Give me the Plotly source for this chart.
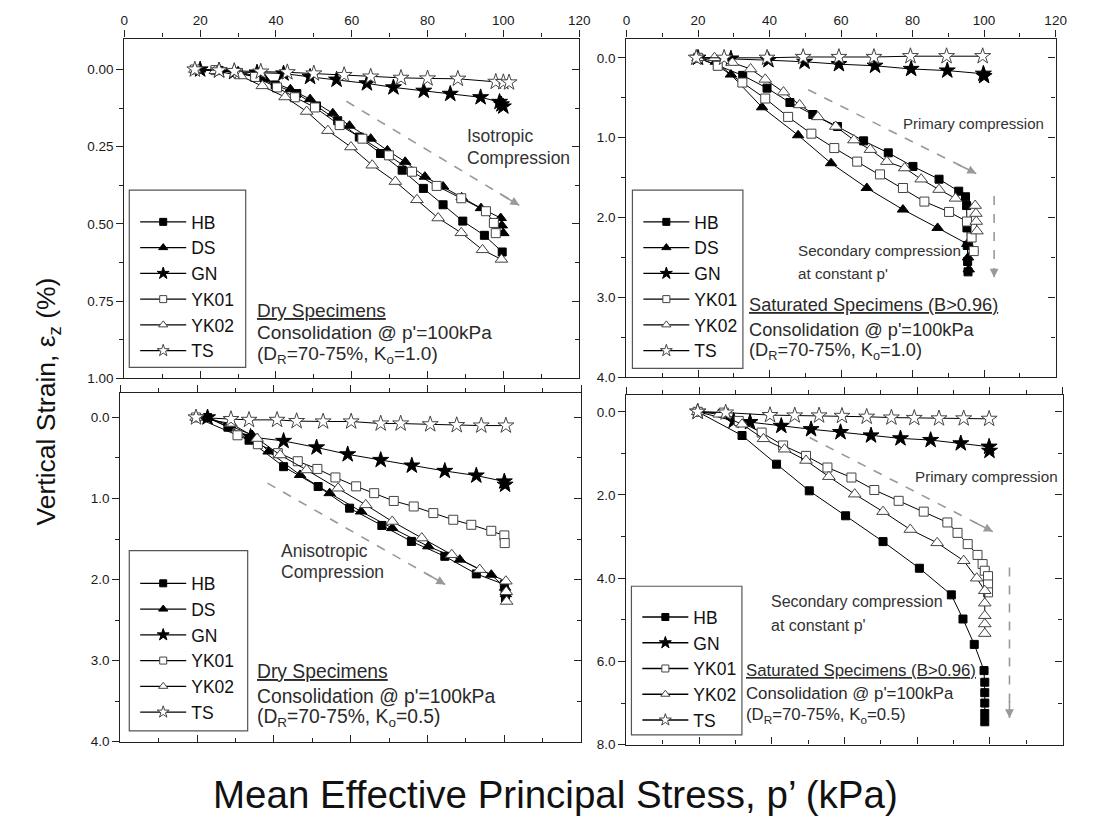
import plotly.graph_objects as go

FIG_W, FIG_H = 1113, 822
FONT = "Liberation Sans, Arial, sans-serif"

# ---------------- data ----------------
# Panel 1: dry specimens, Ko = 1.0
d1_HB_p = [19, 25, 30, 35, 39.8, 45.5, 50.7, 56.3, 62.0, 67.6, 73.3, 78.9, 84.1, 89.3, 95.0, 99.7]
d1_HB_e = [0, 0.003, 0.01, 0.025, 0.05, 0.078, 0.118, 0.166, 0.219, 0.272, 0.326, 0.385, 0.438, 0.491, 0.537, 0.591]
d1_DS_p = [20, 25, 30, 37, 43.8, 49, 55, 59.4, 65, 69.4, 74.1, 79.3, 84.1, 89, 94.1, 99.3, 99.6, 100]
d1_DS_e = [0, 0.002, 0.006, 0.03, 0.064, 0.096, 0.142, 0.182, 0.224, 0.262, 0.299, 0.347, 0.379, 0.414, 0.449, 0.481, 0.505, 0.53]
d1_GN_p = [20, 25, 29, 35, 42, 49, 56, 64, 71, 79, 86, 94, 99, 99.5, 100]
d1_GN_e = [0, 0.003, 0.008, 0.01, 0.013, 0.024, 0.033, 0.045, 0.058, 0.069, 0.079, 0.09, 0.105, 0.113, 0.12]
d1_YK01_p = [18.6, 24, 30, 34.5, 40.3, 45, 50.3, 56.8, 62.8, 69.8, 75.9, 82.4, 88.9, 95.4, 97.5, 98]
d1_YK01_e = [0, 0.002, 0.012, 0.024, 0.058, 0.09, 0.123, 0.18, 0.224, 0.278, 0.331, 0.377, 0.417, 0.459, 0.497, 0.53]
d1_YK02_p = [18.6, 24, 30.7, 36.4, 42.4, 48.1, 53.7, 59.8, 65.4, 71.5, 77.2, 82.8, 88.9, 94.5, 99.5]
d1_YK02_e = [0, 0.004, 0.021, 0.053, 0.089, 0.136, 0.198, 0.251, 0.31, 0.363, 0.422, 0.481, 0.529, 0.584, 0.615]
d1_TS_p = [18.6, 25, 29, 36, 43, 50, 58, 65, 73, 80, 88, 98, 100, 101.5]
d1_TS_e = [0, 0.003, 0.005, 0.007, 0.009, 0.013, 0.018, 0.023, 0.027, 0.029, 0.03, 0.04, 0.041, 0.042]

# Panel 2: saturated specimens, Ko = 1.0
s1_HB_p = [20, 25.5, 32.5, 39.3, 45.7, 52.1, 59, 66.3, 73.2, 80.1, 87.4, 92.9, 94.8, 95.1, 95.2, 95.3, 95.4, 95.5]
s1_HB_e = [0, 0.1, 0.22, 0.38, 0.56, 0.71, 0.86, 1.04, 1.19, 1.36, 1.52, 1.67, 1.74, 1.85, 2.13, 2.35, 2.55, 2.68]
s1_DS_p = [20, 25, 29.2, 37.9, 48, 57.2, 67.2, 77.3, 87, 95.3, 95.5, 95.7]
s1_DS_e = [0, 0.05, 0.21, 0.62, 0.97, 1.32, 1.63, 1.9, 2.13, 2.33, 2.5, 2.65]
s1_GN_p = [20, 29.2, 39.7, 49.8, 59.4, 69.5, 79.6, 89.7, 99.8, 100]
s1_GN_e = [0, 0.01, 0.03, 0.05, 0.08, 0.1, 0.14, 0.16, 0.2, 0.23]
s1_YK01_p = [20, 25.5, 32.4, 38.8, 45.2, 51.7, 58.1, 64.5, 70.9, 77.3, 83.3, 90.2, 95.2, 96.5, 97.1]
s1_YK01_e = [0, 0.1, 0.31, 0.51, 0.74, 0.95, 1.13, 1.3, 1.46, 1.63, 1.8, 1.93, 2.05, 2.25, 2.42]
s1_YK02_p = [20, 24.6, 29.6, 34.7, 38.8, 43.9, 48.4, 53.5, 58.5, 63.6, 68.2, 72.8, 77.8, 82.4, 87.4, 92, 97.5, 97.7, 97.8, 98]
s1_YK02_e = [0, 0, 0.06, 0.14, 0.27, 0.43, 0.59, 0.74, 0.86, 1.03, 1.15, 1.3, 1.38, 1.52, 1.65, 1.76, 1.85, 1.95, 2.05, 2.17]
s1_TS_p = [19.5, 27.3, 39.3, 49.4, 59.4, 69.2, 79.4, 89.5, 99.6]
s1_TS_e = [0, 0, 0, -0.01, -0.01, -0.01, -0.02, -0.02, -0.02]

# Panel 3: dry specimens, Ko = 0.5
d2_HB_p = [22.7, 28, 33.5, 42.5, 51.5, 59.7, 68.1, 75.8, 84.5, 92.7, 100, 100.2, 100.3]
d2_HB_e = [0, 0.12, 0.28, 0.607, 0.852, 1.119, 1.332, 1.529, 1.713, 1.93, 2.06, 2.15, 2.23]
d2_DS_p = [22.7, 28.5, 34.3, 38.6, 46.8, 54.5, 62.7, 70.8, 80.2, 88.4, 96.6, 100.2, 100.4]
d2_DS_e = [0, 0.1, 0.217, 0.42, 0.709, 0.934, 1.16, 1.365, 1.59, 1.754, 1.94, 2.1, 2.18]
d2_GN_p = [22.7, 33.9, 42.5, 51.1, 59.2, 67.8, 75.9, 84.5, 92.7, 100, 100.2]
d2_GN_e = [0, 0.24, 0.29, 0.37, 0.455, 0.525, 0.594, 0.66, 0.717, 0.79, 0.83]
d2_YK01_p = [19.7, 30.5, 35.8, 41, 46.2, 51.3, 56, 61.4, 66.1, 71.2, 76.4, 81.5, 86.7, 91.4, 96.6, 100, 100.1]
d2_YK01_e = [0, 0.22, 0.33, 0.44, 0.54, 0.635, 0.74, 0.85, 0.934, 1.03, 1.098, 1.18, 1.262, 1.324, 1.398, 1.455, 1.55]
d2_YK02_p = [19.7, 28.8, 35.6, 41.6, 48.5, 56.7, 63.9, 70.8, 78.5, 86.3, 93.6, 100.4, 100.5, 100.6]
d2_YK02_e = [0, 0.074, 0.26, 0.463, 0.648, 0.873, 1.078, 1.283, 1.488, 1.693, 1.877, 2.02, 2.15, 2.27]
d2_TS_p = [19.7, 28.8, 33.5, 40.8, 45.9, 52.8, 60.1, 67.8, 73, 80.7, 87.6, 94, 100.4]
d2_TS_e = [0, 0.02, 0.03, 0.03, 0.045, 0.05, 0.05, 0.075, 0.075, 0.085, 0.095, 0.1, 0.1]

# Panel 4: saturated specimens, Ko = 0.5
s2_HB_p = [19.6, 31.8, 41.3, 50.3, 60.3, 70.6, 80.6, 89.4, 92.6, 95.7, 98.4, 98.6, 98.6, 98.6, 98.6, 98.6]
s2_HB_e = [0, 0.57, 1.26, 1.9, 2.5, 3.12, 3.76, 4.4, 4.98, 5.59, 6.22, 6.5, 6.75, 7.0, 7.25, 7.45]
s2_GN_p = [19.6, 29.5, 34, 42.6, 50.8, 58.9, 67.3, 75.4, 83.7, 92, 99.8, 99.9]
s2_GN_e = [0, 0.22, 0.25, 0.34, 0.42, 0.49, 0.57, 0.64, 0.68, 0.76, 0.84, 0.94]
s2_YK01_p = [19.6, 26.8, 30.9, 37.2, 43.1, 49.4, 55.3, 61.9, 68.2, 74.9, 81.8, 88.3, 91.1, 93.9, 96.6, 98, 98.6, 99.5, 99.5, 99.5]
s2_YK01_e = [0, 0.02, 0.22, 0.5, 0.81, 1.06, 1.34, 1.58, 1.88, 2.14, 2.4, 2.66, 2.91, 3.18, 3.44, 3.66, 3.82, 3.95, 4.15, 4.34]
s2_YK02_p = [19.6, 25.5, 31.8, 37.7, 43.5, 49.4, 55.7, 62.8, 70.6, 78.1, 85.5, 92.8, 96.4, 98.6, 98.6, 98.6, 98.6, 98.6]
s2_YK02_e = [0, 0.06, 0.3, 0.65, 0.9, 1.17, 1.56, 1.98, 2.4, 2.83, 3.15, 3.58, 4.0, 4.3, 4.6, 4.9, 5.1, 5.33]
s2_TS_p = [19.6, 27.3, 39.5, 46.3, 53, 59.3, 66.1, 72.9, 79.2, 86, 92.8, 99.8]
s2_TS_e = [0, 0.02, 0.08, 0.09, 0.09, 0.1, 0.12, 0.14, 0.15, 0.16, 0.16, 0.17]

x_ticks = [0, 20, 40, 60, 80, 100, 120]

# ---------------- styles ----------------
GRAY = "#444"
style = {
    "HB": dict(symbol="square", size=8, leg=7, color="black", line=dict(color="black", width=1)),
    "DS": dict(symbol="triangle-up", size=10, leg=8, color="black", line=dict(color="black", width=1)),
    "GN": dict(symbol="star", size=12, leg=9, color="black", line=dict(color="black", width=1)),
    "YK01": dict(symbol="square", size=9, leg=7, color="white", line=dict(color=GRAY, width=1)),
    "YK02": dict(symbol="triangle-up", size=11, leg=8, color="white", line=dict(color=GRAY, width=1)),
    "TS": dict(symbol="star", size=12, leg=9, color="white", line=dict(color=GRAY, width=1)),
}


def fx(px):
    return px / FIG_W


def fy(py):
    return 1 - py / FIG_H


panels = [
    dict(
        dom=((122, 583), (39, 382)), yr=(1.0, -0.1), dt=0.25, mdt=0.125, fmt=".2f", xlab=True,
        series=[("HB", d1_HB_p, d1_HB_e), ("DS", d1_DS_p, d1_DS_e), ("GN", d1_GN_p, d1_GN_e),
                ("YK01", d1_YK01_p, d1_YK01_e), ("YK02", d1_YK02_p, d1_YK02_e), ("TS", d1_TS_p, d1_TS_e)],
        legbox=(127, 245, 192, 371), legpos=(133, 206),
        title="Dry Specimens", ko="1.0", tx=34.6, ty=(0.779, 0.853, 0.923), tfs=19,
        notes=[("Isotropic", 89.8, 0.215, 17.5), ("Compression", 89.8, 0.288, 17.5)],
        arrows=[((58.6, 0.103), (104.2, 0.44))],
    ),
    dict(
        dom=((631, 1066), (39, 381)), yr=(4.0, -0.24), dt=1.0, mdt=0.5, fmt=".1f", xlab=True,
        series=[("HB", s1_HB_p, s1_HB_e), ("DS", s1_DS_p, s1_DS_e), ("GN", s1_GN_p, s1_GN_e),
                ("YK01", s1_YK01_p, s1_YK01_e), ("YK02", s1_YK02_p, s1_YK02_e), ("TS", s1_TS_p, s1_TS_e)],
        legbox=(637, 749, 192, 372), legpos=(643, 206),
        title="Saturated Specimens (B>0.96)", ko="1.0", tx=33.7, ty=(3.10, 3.41, 3.68), tfs=18.2,
        notes=[("Primary compression", 76.8, 0.82, 15), ("Secondary compression", 47.3, 2.41, 15.2),
               ("at constant p'", 47.3, 2.70, 15.2)],
        arrows=[((50.8, 0.40), (97.8, 1.45)), ((102.8, 1.73), (102.8, 2.75))],
    ),
    dict(
        dom=((118, 585), (397, 749)), yr=(4.0, -0.3), dt=1.0, mdt=0.5, fmt=".1f", xlab=False,
        series=[("HB", d2_HB_p, d2_HB_e), ("DS", d2_DS_p, d2_DS_e), ("GN", d2_GN_p, d2_GN_e),
                ("YK01", d2_YK01_p, d2_YK01_e), ("YK02", d2_YK02_p, d2_YK02_e), ("TS", d2_TS_p, d2_TS_e)],
        legbox=(127, 247, 556, 738), legpos=(133, 571),
        title="Dry Specimens", ko="0.5", tx=35.0, ty=(3.14, 3.44, 3.71), tfs=19.3,
        notes=[("Anisotropic", 41.2, 1.65, 17.5), ("Compression", 41.2, 1.91, 17.5)],
        arrows=[((38.3, 0.81), (84.6, 2.06))],
    ),
    dict(
        dom=((631, 1073), (399, 752)), yr=(8.0, -0.4), dt=2.0, mdt=1.0, fmt=".1f", xlab=False,
        series=[("HB", s2_HB_p, s2_HB_e), ("GN", s2_GN_p, s2_GN_e), ("YK01", s2_YK01_p, s2_YK01_e),
                ("YK02", s2_YK02_p, s2_YK02_e), ("TS", s2_TS_p, s2_TS_e)],
        legbox=(636, 748, 592, 742), legpos=(642, 605),
        title="Saturated Specimens (B>0.96)", ko="0.5", tx=32.3, ty=(6.21, 6.76, 7.29), tfs=16.8,
        notes=[("Primary compression", 78.9, 1.55, 15.2), ("Secondary compression", 39.1, 4.55, 16),
               ("at constant p'", 39.1, 5.14, 16)],
        arrows=[((50.4, 0.62), (100.8, 2.88)), ((105.4, 3.74), (105.4, 7.36))],
    ),
]

fig = go.Figure()
layout = dict(
    width=FIG_W, height=FIG_H, margin=dict(l=0, r=0, t=0, b=0),
    paper_bgcolor="white", plot_bgcolor="white",
    font=dict(family=FONT, color="#222"),
    showlegend=True,
)
shapes = []
annotations = []

AX_COMMON = dict(showgrid=False, zeroline=False, showline=True, linecolor="#222", linewidth=1.4,
                 tickcolor="#222", tickwidth=1.2, tickfont=dict(size=13.5, family=FONT, color="#1a1a1a"))

for i, P in enumerate(panels, start=1):
    (x0, x1), (y0, y1) = P["dom"]
    dx = [fx(x0), fx(x1)]
    dy = [fy(y1), fy(y0)]
    xa = "x" if i == 1 else f"x{i}"
    ya = "y" if i == 1 else f"y{i}"
    xo, yo = f"x{i+4}", f"y{i+4}"
    leg = "legend" if i == 1 else f"legend{i}"

    layout["xaxis" if i == 1 else f"xaxis{i}"] = dict(
        AX_COMMON, domain=dx, anchor=ya, side="top", range=[0, 120], tickmode="array",
        tickvals=x_ticks, ticktext=[str(v) for v in x_ticks], showticklabels=P["xlab"],
        ticks="outside", ticklen=7,
        minor=dict(ticks="outside", ticklen=4, dtick=10, tick0=0, tickcolor="#222"),
    )
    layout["yaxis" if i == 1 else f"yaxis{i}"] = dict(
        AX_COMMON, domain=dy, anchor=xa, side="left", range=list(P["yr"]),
        tick0=0, dtick=P["dt"], tickformat=P["fmt"], ticks="outside", ticklen=7,
        minor=dict(ticks="outside", ticklen=4, dtick=P["mdt"], tick0=0, tickcolor="#222"),
    )
    layout[f"xaxis{i+4}"] = dict(
        AX_COMMON, overlaying=xa, anchor=ya, side="bottom", range=[0, 120], tickmode="array",
        tickvals=x_ticks, showticklabels=False, ticks="inside", ticklen=7,
        minor=dict(ticks="inside", ticklen=4, dtick=10, tick0=0, tickcolor="#222"),
    )
    layout[f"yaxis{i+4}"] = dict(
        AX_COMMON, overlaying=ya, anchor=xa, side="right", range=list(P["yr"]),
        tick0=0, dtick=P["dt"], showticklabels=False, ticks="inside", ticklen=7,
        minor=dict(ticks="inside", ticklen=4, dtick=P["mdt"], tick0=0, tickcolor="#222"),
    )
    fig.add_trace(go.Scatter(x=[None], y=[None], xaxis=xo, yaxis=yo, showlegend=False,
                             hoverinfo="skip", mode="markers"))

    for name, pv, ev in P["series"]:
        st = style[name]
        fig.add_trace(go.Scatter(
            x=pv, y=ev, name=name, mode="lines+markers", xaxis=xa, yaxis=ya, showlegend=False,
            line=dict(color="black", width=1),
            marker=dict(symbol=st["symbol"], size=st["size"], color=st["color"], line=st["line"]),
        ))
        # legend entry with the smaller legend-sized symbol
        fig.add_trace(go.Scatter(
            x=[None], y=[None], name=name, mode="lines+markers", xaxis=xa, yaxis=ya, legend=leg,
            line=dict(color="black", width=1.3), hoverinfo="skip",
            marker=dict(symbol=st["symbol"], size=st["leg"], color=st["color"], line=st["line"]),
        ))

    lx, ly = P["legpos"]
    layout[leg] = dict(x=fx(lx), y=fy(ly), xanchor="left", yanchor="top",
                       bgcolor="rgba(0,0,0,0)", borderwidth=0, itemwidth=46,
                       font=dict(size=17.5, family=FONT, color="#111"), tracegroupgap=0,
                       itemsizing="trace")
    bx0, bx1, by0, by1 = P["legbox"]
    shapes.append(dict(type="rect", xref="paper", yref="paper", x0=fx(bx0), x1=fx(bx1),
                       y0=fy(by1), y1=fy(by0), line=dict(color="#555", width=1.2)))

    # text block
    lines = [f"<u>{P['title']}</u>", "Consolidation @ p'=100kPa",
             f"(D<sub>R</sub>=70-75%, K<sub>o</sub>={P['ko']})"]
    for txt, yy in zip(lines, P["ty"]):
        annotations.append(dict(x=P["tx"], y=yy, xref=xa, yref=ya, text=txt, showarrow=False,
                                xanchor="left", yanchor="middle",
                                font=dict(size=P["tfs"], family=FONT, color="#2a2a2a")))
    for txt, xx, yy, fs in P["notes"]:
        annotations.append(dict(x=xx, y=yy, xref=xa, yref=ya, text=txt, showarrow=False,
                                xanchor="left", yanchor="middle",
                                font=dict(size=fs, family=FONT, color="#333")))
    for (ax0, ay0), (ax1, ay1) in P["arrows"]:
        shapes.append(dict(type="line", xref=xa, yref=ya, x0=ax0, y0=ay0, x1=ax1, y1=ay1,
                           line=dict(color="#999", width=1.6, dash="dash")))
        annotations.append(dict(x=ax1, y=ay1, ax=ax1 - 0.12 * (ax1 - ax0), ay=ay1 - 0.12 * (ay1 - ay0),
                                xref=xa, yref=ya, axref=xa, ayref=ya, text="", showarrow=True,
                                arrowhead=2, arrowsize=1.1, arrowwidth=1.6, arrowcolor="#999"))

annotations.append(dict(x=fx(45), y=fy(405), xref="paper", yref="paper", xanchor="center",
                        yanchor="middle", text="Vertical Strain, ε<sub>z</sub> (%)", textangle=-90,
                        showarrow=False, font=dict(size=26.5, family=FONT, color="#111")))
annotations.append(dict(x=fx(559), y=fy(802), xref="paper", yref="paper", xanchor="center",
                        yanchor="middle", text="Mean Effective Principal Stress, p’ (kPa)",
                        showarrow=False, font=dict(size=38.5, family=FONT, color="#111")))

layout["shapes"] = shapes
layout["annotations"] = annotations
fig.update_layout(**layout)
fig.write_html("out.html", config={"displayModeBar": False},
               post_script="document.body.style.margin='0px';")
